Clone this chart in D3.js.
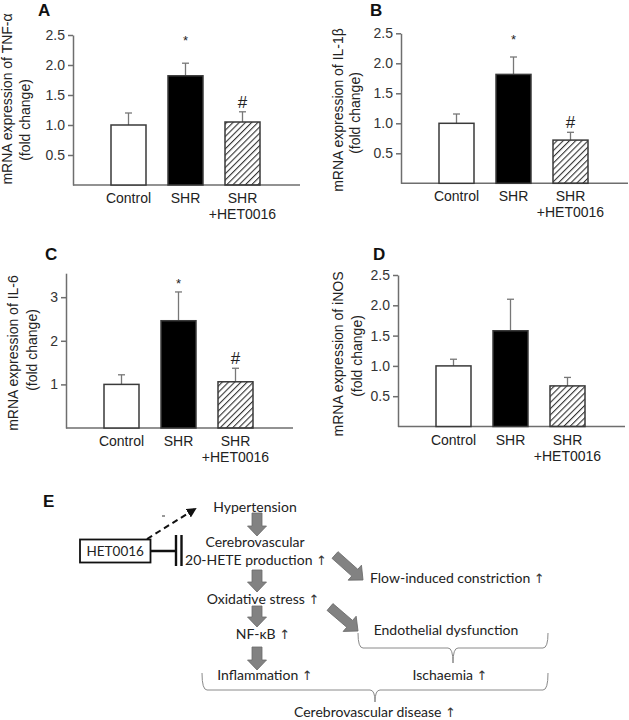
<!DOCTYPE html>
<html lang="en">
<head>
<meta charset="utf-8"/>
<title>HET0016 and inflammatory markers</title>
<script src="https://d3js.org/d3.v7.min.js"></script>
<style>
  body { margin: 0; background: #fff; }
  .axis path, .axis line { stroke: #6e6e6e; stroke-width: 1.5px; }
  .axis text { font-family: "Liberation Sans", Arial, sans-serif; font-size: 14px; fill: #333; }
  .cat { font-family: "Liberation Sans", Arial, sans-serif; font-size: 14px; fill: #222; }
  .ylab { font-family: "Liberation Sans", Arial, sans-serif; font-size: 14px; fill: #222; }
  .panel { font-family: "Liberation Sans", Arial, sans-serif; font-size: 17px; font-weight: bold; fill: #111; }
  .flow { font-family: Lato, "Open Sans", sans-serif; font-size: 14px; fill: #222; }
  .up { font-family: "DejaVu Sans", sans-serif; font-size: 13px; fill: #333; }
</style>
</head>
<body>
<svg id="fig" width="629" height="720"></svg>
<script>
// groups and values (fold change, mean and upper SEM)
var categories = ["Control", "SHR", "SHR|+HET0016"];
var tnfMean = [1.0, 1.82, 1.05];
var tnfErr = [0.20, 0.21, 0.17];
var il1bMean = [1.0, 1.815, 0.72];
var il1bErr = [0.155, 0.29, 0.13];
var il6Mean = [1.0, 2.46, 1.06];
var il6Err = [0.22, 0.66, 0.31];
var inosMean = [1.0, 1.58, 0.67];
var inosErr = [0.11, 0.52, 0.14];
var sigMarks = ["", "*", "#"];
var ticks25 = [0.5, 1.0, 1.5, 2.0, 2.5];
var ticks3 = [1, 2, 3];

// scheme text for panel E (a trailing "^" means an up arrow follows)
var mainChain = ["Hypertension", "Cerebrovascular", "20-HETE production ^", "Oxidative stress ^", "NF-\u03baB ^", "Inflammation ^"];
var sideText = ["Flow-induced constriction ^", "Endothelial dysfunction", "Ischaemia ^", "Cerebrovascular disease ^"];
var drugName = "HET0016";

var svg = d3.select("#fig");

// hatch for the HET0016 bars
var defs = svg.append("defs");
defs.append("pattern")
    .attr("id", "hatch")
    .attr("patternUnits", "userSpaceOnUse")
    .attr("width", 4.4).attr("height", 4.4)
    .attr("patternTransform", "rotate(45)")
  .append("line")
    .attr("x1", 0).attr("y1", 0).attr("x2", 0).attr("y2", 4.4)
    .attr("stroke", "#333").attr("stroke-width", 2.2);
defs.append("marker")
    .attr("id", "tri")
    .attr("viewBox", "0 0 10 10")
    .attr("refX", 8).attr("refY", 5)
    .attr("markerWidth", 5).attr("markerHeight", 5)
    .attr("markerUnits", "strokeWidth")
    .attr("orient", "auto")
  .append("path").attr("d", "M0,0 L10,5 L0,10 Z").attr("fill", "#111");

var panels = [
  {key: "A", title: "mRNA expression of TNF-\u03b1", mean: tnfMean, err: tnfErr, marks: sigMarks, starAt: 2.45,
   max: 2.5, ticks: ticks25, fmt: ".1f", x0: 73, base: 185, top: 35, lab: [38, 16], yl: [-66, 99, -48, 120]},
  {key: "B", title: "mRNA expression of IL-1\u03b2", mean: il1bMean, err: il1bErr, marks: sigMarks, starAt: 2.44,
   max: 2.5, ticks: ticks25, fmt: ".1f", x0: 401, base: 183.3, top: 33.3, lab: [370, 16], yl: [-63, 110, -46, 113]},
  {key: "C", title: "mRNA expression of IL-6", mean: il6Mean, err: il6Err, marks: sigMarks, starAt: 3.36,
   max: 3.55, ticks: ticks3, fmt: "d", x0: 66, base: 428, top: 273.2, lab: [45, 260], yl: [-53, 353, -34, 350]},
  {key: "D", title: "mRNA expression of iNOS", mean: inosMean, err: inosErr, marks: ["", "", ""], starAt: 0,
   max: 2.5, ticks: ticks25, fmt: ".1f", x0: 398, base: 426.5, top: 275, lab: [373, 260], yl: [-60, 354, -41, 356]}
];

panels.forEach(function(p) {
  var g = svg.append("g");
  var y = d3.scaleLinear().domain([0, p.max]).range([p.base, p.top]);
  var x = d3.scaleBand().domain(categories)
      .range([p.x0 + 38, p.x0 + 187])
      .paddingInner(0.386).paddingOuter(0);

  // baseline
  g.append("line")
      .attr("x1", p.x0).attr("x2", p.x0 + 227)
      .attr("y1", p.base).attr("y2", p.base)
      .attr("stroke", "#6e6e6e").attr("stroke-width", 1.5);

  g.append("g")
      .attr("class", "axis")
      .attr("transform", "translate(" + p.x0 + ",0)")
      .call(d3.axisLeft(y).tickValues(p.ticks).tickFormat(d3.format(p.fmt)).tickSize(5).tickSizeOuter(0).tickPadding(3));

  var bars = g.selectAll(".bar").data(categories).enter().append("g");

  // error whiskers (upper only)
  bars.append("line")
      .attr("x1", function(d) { return x(d) + x.bandwidth() / 2; })
      .attr("x2", function(d) { return x(d) + x.bandwidth() / 2; })
      .attr("y1", function(d, i) { return y(p.mean[i]); })
      .attr("y2", function(d, i) { return y(p.mean[i] + p.err[i]); })
      .attr("stroke", "#777").attr("stroke-width", 1.3);
  bars.append("line")
      .attr("x1", function(d) { return x(d) + x.bandwidth() / 2 - 3.5; })
      .attr("x2", function(d) { return x(d) + x.bandwidth() / 2 + 3.5; })
      .attr("y1", function(d, i) { return y(p.mean[i] + p.err[i]); })
      .attr("y2", function(d, i) { return y(p.mean[i] + p.err[i]); })
      .attr("stroke", "#777").attr("stroke-width", 1.3);

  bars.append("rect")
      .attr("x", function(d) { return x(d); })
      .attr("width", x.bandwidth())
      .attr("y", function(d, i) { return y(p.mean[i]); })
      .attr("height", function(d, i) { return y(0) - y(p.mean[i]); })
      .attr("fill", function(d, i) { return i === 0 ? "#fff" : i === 1 ? "#000" : "url(#hatch)"; })
      .attr("stroke", "#3a3a3a").attr("stroke-width", 1.5);

  // significance marks
  bars.append("text")
      .attr("x", function(d) { return x(d) + x.bandwidth() / 2; })
      .attr("y", function(d, i) {
        if (p.marks[i] === "*") return y(p.starAt) + 7;
        return y(p.mean[i] + p.err[i]) - 4;
      })
      .attr("text-anchor", "middle")
      .style("font-family", "Liberation Sans, Arial, sans-serif")
      .style("font-size", function(d, i) { return p.marks[i] === "*" ? "13px" : "17px"; })
      .attr("fill", "#222")
      .text(function(d, i) { return p.marks[i]; });

  // category labels
  bars.each(function(d) {
    var lines = d.split("|");
    var t = d3.select(this).append("text")
        .attr("class", "cat")
        .attr("text-anchor", "middle");
    lines.forEach(function(l, k) {
      t.append("tspan")
          .attr("x", x(d) + x.bandwidth() / 2)
          .attr("y", p.base + 18 + k * 16)
          .text(l);
    });
  });

  // y axis title, two lines
  [[p.title, p.yl[0], p.yl[1]], ["(fold change)", p.yl[2], p.yl[3]]].forEach(function(r) {
    g.append("text")
        .attr("class", "ylab")
        .attr("text-anchor", "middle")
        .attr("dy", "0.35em")
        .attr("transform", "translate(" + (p.x0 + r[1]) + "," + r[2] + ") rotate(-90)")
        .text(r[0]);
  });

  g.append("text").attr("class", "panel")
      .attr("x", p.lab[0]).attr("y", p.lab[1])
      .text(p.key);
});

// ---------- panel E: scheme ----------
var e = svg.append("g");
e.append("text").attr("class", "panel").attr("x", 43).attr("y", 507).text("E");

function blockArrow(x1, y1, x2, y2, sw, hw, hl) {
  var len = Math.hypot(x2 - x1, y2 - y1),
      ang = Math.atan2(y2 - y1, x2 - x1) * 180 / Math.PI;
  var pts = [[0, -sw], [len - hl, -sw], [len - hl, -hw], [len, 0], [len - hl, hw], [len - hl, sw], [0, sw]];
  e.append("path")
      .attr("d", "M" + pts.join("L") + "Z")
      .attr("transform", "translate(" + x1 + "," + y1 + ") rotate(" + ang + ")")
      .attr("fill", "#828282").attr("stroke", "#6a6a6a").attr("stroke-width", 0.8);
}

function brace(xa, xb, yTop, yLine, xm, yTip) {
  var r = 5;
  var d = "M" + xa + "," + yTop +
      " Q" + xa + "," + yLine + " " + (xa + r) + "," + yLine +
      " L" + (xm - r) + "," + yLine +
      " Q" + xm + "," + yLine + " " + xm + "," + yTip +
      " Q" + xm + "," + yLine + " " + (xm + r) + "," + yLine +
      " L" + (xb - r) + "," + yLine +
      " Q" + xb + "," + yLine + " " + xb + "," + yTop;
  e.append("path").attr("d", d).attr("fill", "none")
      .attr("stroke", "#8a8a8a").attr("stroke-width", 1);
}

function label(txt, x, yb, anchor, size) {
  var t = e.append("text").attr("class", "flow")
      .attr("x", x).attr("y", yb)
      .attr("text-anchor", anchor || "middle")
      .style("font-size", size || null);
  var up = txt.slice(-1) === "^";
  t.append("tspan").text(up ? txt.slice(0, -1) : txt);
  if (up) t.append("tspan").attr("class", "up").text("\u2191");
}

// main chain
label(mainChain[0], 255, 512);
label(mainChain[1], 255, 547);
label(mainChain[2], 256, 565);
label(mainChain[3], 263, 604);
label(mainChain[4], 263, 639);
label(mainChain[5], 265, 680);

blockArrow(257, 513, 257, 536, 5, 9.5, 10);
blockArrow(257, 570, 257, 592, 5, 9.5, 10);
blockArrow(257, 606, 257, 627, 5, 9.5, 10);
blockArrow(257, 647, 257, 670, 5, 9.5, 10);

// side branches
blockArrow(335, 555, 363, 580, 4.5, 10, 11);
blockArrow(330, 607, 358, 631, 4.5, 10, 11);
label(sideText[0], 370, 583, "start");
label(sideText[1], 446, 635);
label(sideText[2], 450, 680);
label(sideText[3], 375, 717);

brace(358, 548, 633, 648, 453, 663);
brace(202, 548, 673, 690, 375, 702);

// HET0016 inhibitor box
e.append("rect")
    .attr("x", 80).attr("y", 539.5).attr("width", 70.5).attr("height", 23)
    .attr("fill", "#fff").attr("stroke", "#111").attr("stroke-width", 1.8);
label(drugName, 115.2, 556, "middle", "13.5px");
e.append("line").attr("x1", 150.5).attr("x2", 176).attr("y1", 551).attr("y2", 551)
    .attr("stroke", "#111").attr("stroke-width", 2.5);
[176, 181.5].forEach(function(xx) {
  e.append("line").attr("x1", xx).attr("x2", xx).attr("y1", 535).attr("y2", 566)
      .attr("stroke", "#111").attr("stroke-width", 2.4);
});
e.append("line")
    .attr("x1", 147).attr("y1", 539).attr("x2", 195).attr("y2", 509)
    .attr("stroke", "#111").attr("stroke-width", 2)
    .attr("stroke-dasharray", "6,4")
    .attr("marker-end", "url(#tri)");
e.append("line").attr("x1", 162).attr("x2", 165).attr("y1", 516).attr("y2", 516)
    .attr("stroke", "#333").attr("stroke-width", 1);
</script>
</body>
</html>
